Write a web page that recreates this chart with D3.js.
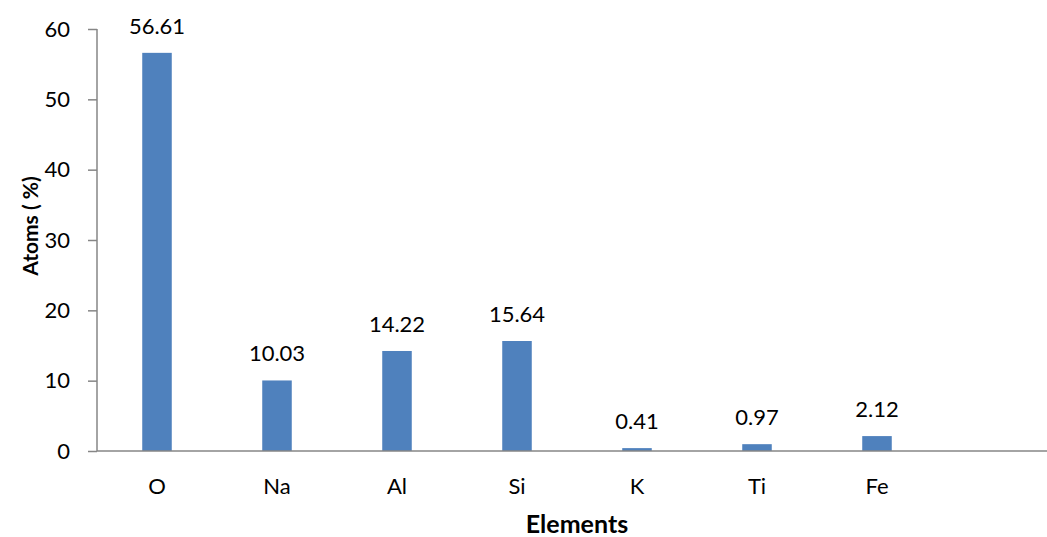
<!DOCTYPE html>
<html>
<head>
<meta charset="utf-8">
<script src="https://cdn.jsdelivr.net/npm/d3@7"></script>
<style>
  html, body { margin: 0; padding: 0; background: #fff; }
  svg { display: block; font-family: Lato, "Open Sans", sans-serif; }
</style>
</head>
<body>
<svg id="chart" width="1047" height="537"></svg>
<script>
const categories = ["O", "Na", "Al", "Si", "K", "Ti", "Fe", ""];
const values = [56.61, 10.03, 14.22, 15.64, 0.41, 0.97, 2.12, null];
const yTicks = [0, 10, 20, 30, 40, 50, 60];
const yTitle = "Atoms ( %)";
const xTitle = "Elements";

const svg = d3.select("#chart");
const margin = { left: 97, top: 29 };
const plotW = 960, plotH = 422;

const x = d3.scaleBand().domain(categories.map((c, i) => i)).range([0, plotW]).paddingInner(0.754).paddingOuter(0.377);
const y = d3.scaleLinear().domain([0, 60]).range([plotH, 0]);

const g = svg.append("g").attr("transform", `translate(${margin.left},${margin.top})`);

// bars
const data = categories.map((c, i) => ({ c, i, v: values[i] })).filter(d => d.v != null);
g.selectAll("rect.bar").data(data).join("rect")
  .attr("class", "bar")
  .attr("x", d => x(d.i))
  .attr("width", x.bandwidth())
  .attr("y", d => y(d.v))
  .attr("height", d => y(0) - y(d.v))
  .attr("fill", "#4F81BD");

// value labels
g.selectAll("text.val").data(data).join("text")
  .attr("class", "val")
  .attr("x", d => x(d.i) + x.bandwidth() / 2)
  .attr("y", d => y(d.v) - 19)
  .attr("text-anchor", "middle")
  .attr("font-size", 22)
  .attr("fill", "#000")
  .text(d => d.v.toFixed(2));

// y axis
const yAxis = d3.axisLeft(y).tickValues(yTicks).tickSize(9).tickPadding(18).tickFormat(d3.format("d"));
const ya = g.append("g").call(yAxis);
ya.select(".domain").attr("stroke", "#868686").attr("stroke-width", 1.5).attr("d", `M0,0V${plotH}`);
ya.selectAll(".tick line").attr("stroke", "#868686").attr("stroke-width", 1.5);
ya.selectAll(".tick text").attr("font-size", 22).attr("fill", "#000").attr("font-family", "Lato, 'Open Sans', sans-serif");

// x axis
const xAxis = d3.axisBottom(x).tickSize(0).tickPadding(27).tickFormat(i => categories[i]);
const xa = g.append("g").attr("transform", `translate(0,${plotH})`).call(xAxis);
xa.select(".domain").attr("stroke", "#868686").attr("stroke-width", 1.5).attr("d", `M0,0H${plotW}`);
xa.selectAll(".tick text").attr("font-size", 22).attr("fill", "#000").attr("font-family", "Lato, 'Open Sans', sans-serif");

// titles
svg.append("text")
  .attr("transform", `translate(38,226) rotate(-90)`)
  .attr("text-anchor", "middle")
  .attr("font-size", 21)
  .attr("font-weight", "bold")
  .attr("fill", "#000")
  .style("white-space", "pre")
  .text(yTitle);

svg.append("text")
  .attr("x", margin.left + plotW / 2)
  .attr("y", 533)
  .attr("text-anchor", "middle")
  .attr("font-size", 25)
  .attr("font-weight", "bold")
  .attr("fill", "#000")
  .text(xTitle);
</script>
</body>
</html>
